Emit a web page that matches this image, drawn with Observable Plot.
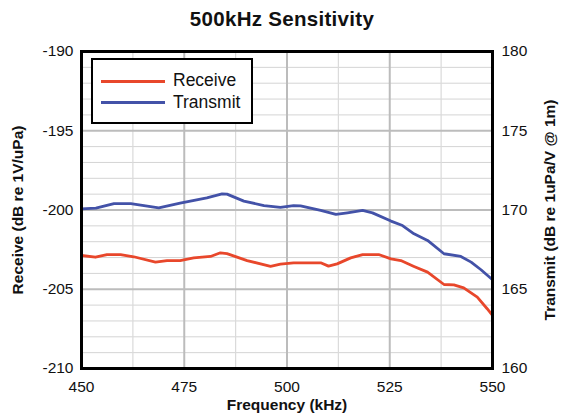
<!DOCTYPE html>
<html>
<head>
<meta charset="utf-8">
<script src="https://cdn.jsdelivr.net/npm/d3@7"></script>
<script src="https://cdn.jsdelivr.net/npm/@observablehq/plot@0.6"></script>
<style>
  html, body { margin: 0; padding: 0; background: #fff; }
  #wrap { position: relative; width: 564px; height: 416px; font-family: "Liberation Sans", Arial, sans-serif; }
  #title { height: 38px; line-height: 38px; text-align: center; font-weight: bold; font-size: 20.5px; letter-spacing: 0.3px; color: #111; }
  #legend { position: absolute; left: 91px; top: 58px; width: 158px; height: 62px; border: 2.5px solid #000; background: #fff; box-sizing: content-box; }
  .lg { position: absolute; left: 8px; width: 64px; height: 2.8px; }
  .lt { position: absolute; left: 80px; font-size: 17.5px; color: #111; line-height: 18px; }
  svg [aria-label="y-axis label"] text, svg [aria-label="x-axis label"] text { font-weight: bold; font-size: 15.5px; }
</style>
</head>
<body>
<div id="wrap">
  <div id="title">500kHz Sensitivity</div>
  <div id="chart"></div>
  <div id="legend">
    <div class="lg" style="top:20px;background:#e8472b"></div>
    <div class="lt" style="top:11px">Receive</div>
    <div class="lg" style="top:41px;background:#4352a8"></div>
    <div class="lt" style="top:33px">Transmit</div>
  </div>
</div>
<script>
// Receive sensitivity (dB re 1V/uPa)
const receiveFreq = [450, 453.4, 456.2, 459.5, 462.7, 468, 470.8, 474, 477.3, 481.4, 483.8, 485.4, 490.3, 496, 498.4, 501.6, 508.2, 510.1, 512.2, 515.5, 518.4, 522.3, 525.3, 527.7, 530.9, 534.2, 538.2, 540.6, 543, 546.3, 548.7, 550];
const receiveDb = [-202.87, -202.98, -202.81, -202.81, -202.95, -203.29, -203.2, -203.19, -203.02, -202.93, -202.7, -202.75, -203.19, -203.55, -203.42, -203.33, -203.33, -203.54, -203.4, -203.02, -202.81, -202.81, -203.08, -203.19, -203.56, -203.92, -204.7, -204.72, -204.91, -205.5, -206.23, -206.65];

// Transmit sensitivity (dB re 1uPa/V @ 1m)
const transmitFreq = [450, 453.5, 457.9, 462, 466, 468.8, 474, 480.5, 484.2, 485.4, 489.5, 494.4, 498.4, 501.6, 503.3, 508.2, 511.9, 514.7, 518.4, 520.8, 525.3, 528.1, 530.9, 534.2, 538.2, 542.3, 544.8, 547.2, 550];
const transmitDb = [170.07, 170.12, 170.4, 170.4, 170.24, 170.14, 170.43, 170.77, 171.02, 171.0, 170.56, 170.28, 170.16, 170.28, 170.26, 169.97, 169.72, 169.82, 169.97, 169.82, 169.3, 169.02, 168.5, 168.08, 167.24, 167.07, 166.71, 166.23, 165.6];

// Axes
const xTicks = [450, 475, 500, 525, 550];
const xMinorGrid = [462.5, 487.5, 512.5, 537.5];
const receiveTicks = [-190, -195, -200, -205, -210];
const transmitTicks = [180, 175, 170, 165, 160];
const offset = 370; // transmit = receive + 370 on the shared vertical scale
const yMinorGrid = d3.range(-209, -190, 1).filter(v => v % 5 !== 0);

const receive = receiveFreq.map((f, i) => ({f, v: receiveDb[i]}));
const transmit = transmitFreq.map((f, i) => ({f, v: transmitDb[i] - offset}));

const chart = Plot.plot({
  width: 564,
  height: 378,
  marginTop: 13,
  marginBottom: 48,
  marginLeft: 81,
  marginRight: 72,
  style: {fontFamily: "Liberation Sans, Arial, sans-serif", fontSize: "15.5px", color: "#111", background: "#fff"},
  x: {domain: [450, 550]},
  y: {domain: [-210, -190]},
  marks: [
    Plot.ruleY(yMinorGrid, {stroke: "#d4d4d4", strokeWidth: 1}),
    Plot.ruleX(xMinorGrid, {stroke: "#dadada", strokeWidth: 1.2}),
    Plot.ruleY([-195, -200, -205], {stroke: "#bcbcbc", strokeWidth: 2}),
    Plot.ruleX([475, 500, 525], {stroke: "#bcbcbc", strokeWidth: 2}),
    Plot.line(receive, {x: "f", y: "v", stroke: "#e8472b", strokeWidth: 2.8}),
    Plot.line(transmit, {x: "f", y: "v", stroke: "#4352a8", strokeWidth: 2.8}),
    Plot.frame({stroke: "#000", strokeWidth: 3}),
    Plot.axisX({ticks: xTicks, tickSize: 0, tickPadding: 12, tickFormat: d => d, label: "Frequency (kHz)", labelAnchor: "center", labelArrow: "none", labelOffset: 41}),
    Plot.axisY({anchor: "left", ticks: receiveTicks, tickSize: 0, tickPadding: 8, tickFormat: d => d, label: "Receive (dB re 1V/uPa)", labelAnchor: "center", labelArrow: "none", labelOffset: 70}),
    Plot.axisY({anchor: "right", ticks: receiveTicks, tickSize: 0, tickPadding: 9, tickFormat: d => transmitTicks[receiveTicks.indexOf(d)], label: "Transmit (dB re 1uPa/V @ 1m)", labelAnchor: "center", labelArrow: "none", labelOffset: 62})
  ]
});
document.getElementById("chart").appendChild(chart);
</script>
</body>
</html>
